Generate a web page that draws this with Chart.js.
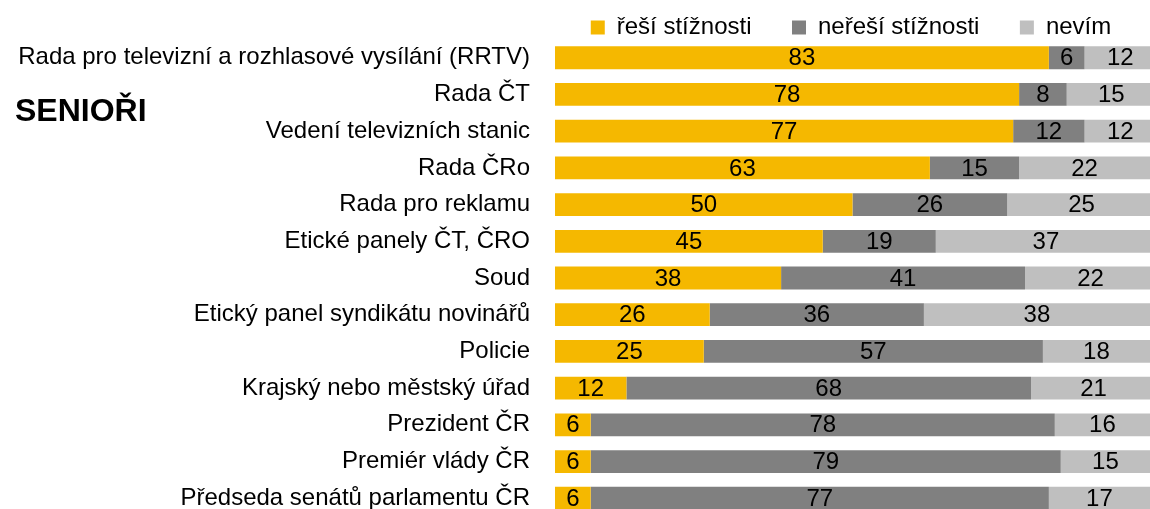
<!DOCTYPE html>
<html>
<head>
<meta charset="utf-8">
<script src="https://cdn.jsdelivr.net/npm/chart.js@4"></script>
<style>
  html, body { margin: 0; padding: 0; background: #fff; overflow: hidden; }
  #wrap { position: relative; width: 1150px; height: 556px; }
  #title { position: absolute; left: 15px; top: 92px; font: bold 32px "Liberation Sans", Arial, sans-serif; color: #000; }
</style>
</head>
<body>
<div id="wrap">
  <canvas id="chart" width="1150" height="556"></canvas>
  <div id="title">SENIOŘI</div>
</div>
<script>
const categories = [
  "Rada pro televizní a rozhlasové vysílání (RRTV)",
  "Rada ČT",
  "Vedení televizních stanic",
  "Rada ČRo",
  "Rada pro reklamu",
  "Etické panely ČT, ČRO",
  "Soud",
  "Etický panel syndikátu novinářů",
  "Policie",
  "Krajský nebo městský úřad",
  "Prezident ČR",
  "Premiér vlády ČR",
  "Předseda senátů parlamentu ČR"
];
const resi = [83, 78, 77, 63, 50, 45, 38, 26, 25, 12, 6, 6, 6];
const neresi = [6, 8, 12, 15, 26, 19, 41, 36, 57, 68, 78, 79, 77];
const nevim = [12, 15, 12, 22, 25, 37, 22, 38, 18, 21, 16, 15, 17];

const FONT = "'Liberation Sans', Arial, sans-serif";
const FS = 24;

// numbers in the middle of each segment
const segmentLabels = {
  id: "segmentLabels",
  afterDatasetsDraw(chart) {
    const ctx = chart.ctx;
    ctx.save();
    ctx.font = FS + "px " + FONT;
    ctx.fillStyle = "#000";
    ctx.textAlign = "center";
    ctx.textBaseline = "middle";
    chart.data.datasets.forEach((ds, di) => {
      chart.getDatasetMeta(di).data.forEach((bar, i) => {
        const x = (bar.x + bar.base) / 2;
        ctx.fillText(ds.data[i], x, bar.y + 1);
      });
    });
    ctx.restore();
  }
};

// legend: fixed height, moved over the bars
const legendPlace = {
  id: "legendPlace",
  beforeInit(chart) {
    const fit = chart.legend.fit;
    chart.legend.fit = function () {
      fit.call(this);
      this.height = 36;
    };
  },
  afterLayout(chart) {
    const lg = chart.legend;
    lg.top = -25;
    lg.bottom = 40;
    lg.left = 452;
    lg.right = 1250;
  }
};

new Chart(document.getElementById("chart"), {
  type: "bar",
  data: {
    labels: categories,
    datasets: [
      { label: "řeší stížnosti", data: resi, backgroundColor: "#F5B800" },
      { label: "neřeší stížnosti", data: neresi, backgroundColor: "#808080" },
      { label: "nevím", data: nevim, backgroundColor: "#BFBFBF" }
    ]
  },
  options: {
    indexAxis: "y",
    responsive: false,
    animation: false,
    categoryPercentage: 1,
    barPercentage: 0.62,
    layout: { padding: 0 },
    scales: {
      x: { stacked: true, min: 0, max: 100, display: false },
      y: {
        stacked: true,
        grid: { display: false, drawTicks: false },
        border: { display: false },
        ticks: { color: "#000", font: { family: FONT, size: FS }, padding: 25 },
        afterFit(scale) { scale.width = 555; }
      }
    },
    plugins: {
      legend: {
        position: "top",
        labels: {
          color: "#000",
          font: { family: FONT, size: FS },
          boxWidth: 14,
          boxHeight: 14,
          padding: 40.5
        }
      },
      tooltip: { enabled: false }
    }
  },
  plugins: [segmentLabels, legendPlace]
});
</script>
</body>
</html>
